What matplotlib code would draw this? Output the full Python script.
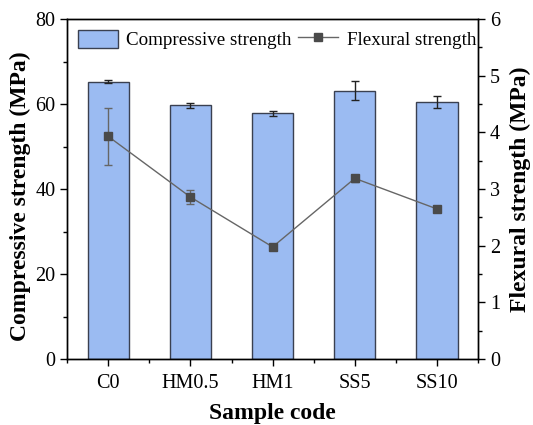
import numpy as np
import matplotlib as mpl
import matplotlib.pyplot as plt
from matplotlib.ticker import MultipleLocator

plt.rcParams['font.family'] = ['Liberation Serif', 'DejaVu Serif']

samples = ['C0', 'HM0.5', 'HM1', 'SS5', 'SS10']
compressive = [65.3, 59.7, 57.8, 63.2, 60.5]
compressive_err = [0.4, 0.5, 0.5, 2.2, 1.4]
flexural = [3.93, 2.86, 1.98, 3.19, 2.65]
flexural_err = [0.5, 0.13, 0.03, 0.06, 0.02]

fig = plt.figure(figsize=(5.33, 4.25), dpi=100)
ax1 = fig.add_axes([0.126, 0.155, 0.771, 0.8])
x = np.arange(len(samples))

bars = ax1.bar(x, compressive, width=0.5, color='#9bbbf2', edgecolor='#3a4050',
               linewidth=1.0, label='Compressive strength', zorder=2)
ax1.errorbar(x, compressive, yerr=compressive_err, fmt='none', ecolor='#222222',
             elinewidth=1.0, capsize=3, capthick=1.0, zorder=3)
ax1.set_xlim(-0.5, 4.5)
ax1.set_ylim(0, 80)
ax1.set_xticks(x)
ax1.set_xticklabels(samples)
ax1.xaxis.set_minor_locator(MultipleLocator(0.5))
ax1.yaxis.set_major_locator(MultipleLocator(20))
ax1.yaxis.set_minor_locator(MultipleLocator(10))
ax1.set_xlabel('Sample code', fontsize=17, fontweight='bold', labelpad=7)
ax1.set_ylabel('Compressive strength (MPa)', fontsize=17, fontweight='bold', labelpad=1)
ax1.yaxis.set_label_coords(-0.088, 0.48)

ax2 = ax1.twinx()
line, = ax2.plot(x, flexural, color='#666666', linewidth=1.0, marker='s',
                 markersize=6, markerfacecolor='#4a4a4a', markeredgecolor='#4a4a4a',
                 label='Flexural strength', zorder=4)
ax2.errorbar(x, flexural, yerr=flexural_err, fmt='none', ecolor='#666666',
             elinewidth=1.0, capsize=3, capthick=1.0, zorder=3)
ax2.set_ylim(0, 6)
ax2.yaxis.set_major_locator(MultipleLocator(1))
ax2.yaxis.set_minor_locator(MultipleLocator(0.5))
ax2.set_ylabel('Flexural strength (MPa)', fontsize=17, fontweight='bold', labelpad=7)

for a in (ax1, ax2):
    a.tick_params(which='major', direction='out', length=5, width=1.0, labelsize=14.5)
    a.tick_params(which='minor', direction='out', length=3, width=1.0)
    for s in a.spines.values():
        s.set_linewidth(1.0)
ax1.tick_params(axis='x', which='major', pad=6)

ax1.legend([bars, line], ['Compressive strength', 'Flexural strength'],
           loc='upper left', bbox_to_anchor=(0.0, 1.0), ncol=2, frameon=False,
           fontsize=13.7, handlelength=2.1, handleheight=1.1, columnspacing=0.35,
           handletextpad=0.45, borderaxespad=0.25, borderpad=0.3)

fig.savefig('out.png', dpi=100)
